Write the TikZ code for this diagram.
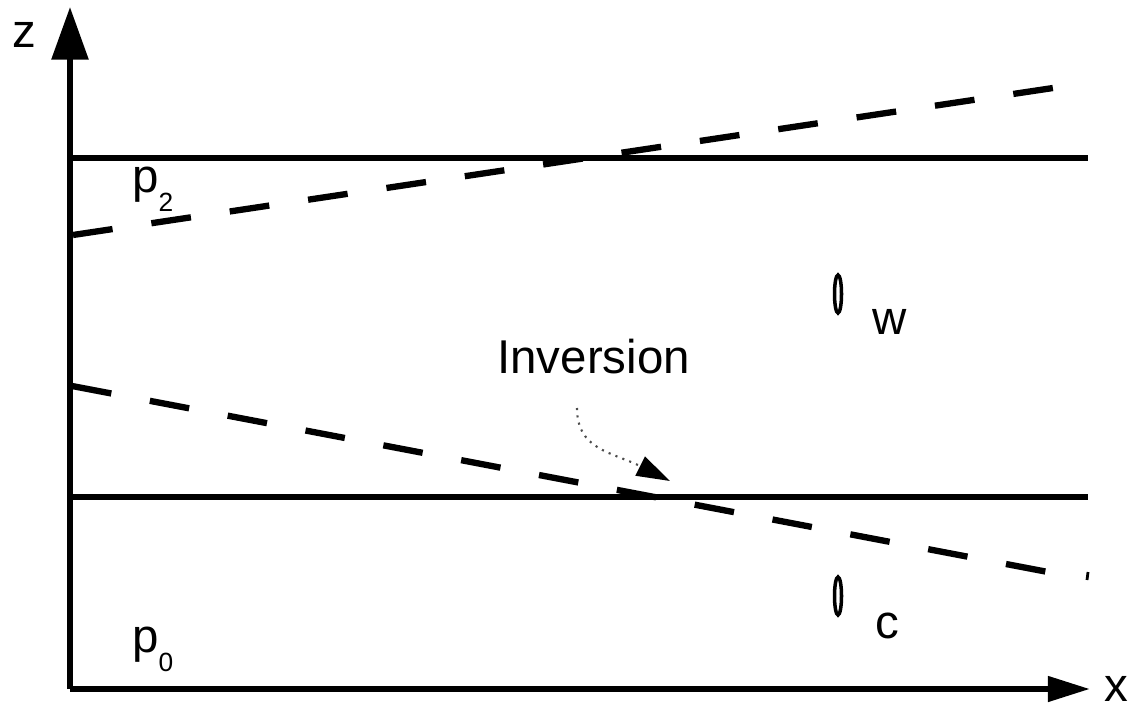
\documentclass[tikz,border=0pt]{standalone}
\usepackage{fontspec}
\setmainfont{Liberation Sans}
\usetikzlibrary{arrows.meta, shapes.geometric, positioning}
\tikzset{
  % pixel-like units, y running downwards
  every picture/.append style = {line join=miter},
  axisline/.style   = {line width=3.4pt, black},
  level/.style      = {line width=3.2pt, black},
  inv/.style        = {line width=3.6pt, dash pattern={on 0.8cm off 0.785cm}},
  parcel/.style     = {ellipse, draw, line width=2pt, inner sep=0pt,
                       minimum width=0.14cm, minimum height=0.76cm},
  lbl/.style        = {font=\fontsize{27}{30}\selectfont, inner sep=0pt},
}
\newcommand{\lowsub}[1]{\raisebox{-0.38cm}{\fontsize{15}{16}\selectfont #1}}

\begin{document}
\begin{tikzpicture}[x=0.02cm,y=-0.02cm]
  \useasboundingbox (0,0) rectangle (1135,709);
  % --- axes ---------------------------------------------------------------
  \coordinate (O)    at (70,689);
  \coordinate (ztip) at (70,7);
  \coordinate (xtip) at (1090,689);
  \draw[axisline, -{Triangle[length=30pt, width=20.5pt]}] (O) -- (ztip);
  \draw[axisline, -{Triangle[length=24pt, width=14pt]}] (O) -- (xtip);
  \node[lbl] (zlab) at (24,35) {z};
  \node[lbl] (xlab) at (1116,689) {x};
  % --- pressure levels ----------------------------------------------------
  \coordinate (p2l) at (70,158);   \coordinate (p2r) at (1088,158);
  \coordinate (p1l) at (70,497);   \coordinate (p1r) at (1088,497);
  \draw[level] (p2l) -- (p2r);
  \draw[level] (p1l) -- (p1r);
  \node[lbl, anchor=base west] (ptwo)  at (132,193) {p\lowsub{2}};
  \node[lbl, anchor=base west] (pzero) at (132,652) {p\lowsub{0}};
  % --- tilted (dashed) surfaces -------------------------------------------
  \coordinate (upl) at (73,235);   \coordinate (upr) at (1053,88);
  \coordinate (lol) at (72,386);   \coordinate (lor) at (1048,572);
  \draw[inv] (upl) -- (upr);
  \draw[inv] (lol) -- (lor);
  \draw[line width=1.6pt] (1088,572) -- (1087,580);
  % --- air parcels --------------------------------------------------------
  \node[parcel] (wpar) at (838,294) {};
  \node[parcel] (cpar) at (838,596) {};
  \node[lbl] (wlab) at (890,322) {w};
  \node[lbl] (clab) at (887,626) {c};
  % --- inversion ----------------------------------------------------------
  \node[lbl, anchor=base west] (invlab) at (497,373) {Inversion};
  \coordinate (invs) at (577,408);
  \coordinate (invt) at (670,481);
  \draw[line width=1.2pt, black!70, dash pattern={on 1.2pt off 3pt},
        -{Triangle[length=19pt, width=12pt, black]}]
    (invs) .. controls (577,450) and (612,452) .. (invt);
\end{tikzpicture}
\end{document}
